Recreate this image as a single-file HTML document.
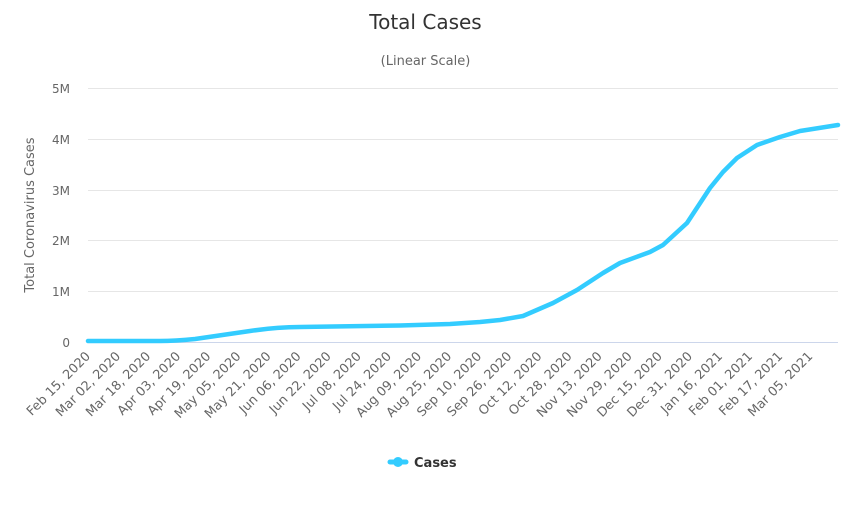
<!DOCTYPE html>
<html><head><meta charset="utf-8"><style>
body{margin:0;background:#fff;}
svg text{font-family:"DejaVu Sans","Liberation Sans",sans-serif;}
</style></head><body>
<svg width="851" height="500" xmlns="http://www.w3.org/2000/svg">
<rect width="851" height="500" fill="#fff"/>
<text x="425.5" y="29" text-anchor="middle" font-size="20" fill="#333">Total Cases</text>
<text x="425.5" y="65" text-anchor="middle" font-size="13" fill="#666">(Linear Scale)</text>
<g stroke="#e6e6e6" stroke-width="1">
<line x1="88" y1="88.5" x2="838" y2="88.5"/>
<line x1="88" y1="139.5" x2="838" y2="139.5"/>
<line x1="88" y1="190.5" x2="838" y2="190.5"/>
<line x1="88" y1="240.5" x2="838" y2="240.5"/>
<line x1="88" y1="291.5" x2="838" y2="291.5"/>
</g>
<line x1="88" y1="342.5" x2="838" y2="342.5" stroke="#ccd6eb" stroke-width="1"/>
<g font-size="12" fill="#666" text-anchor="end">
<text x="70" y="93">5M</text>
<text x="70" y="144">4M</text>
<text x="70" y="195">3M</text>
<text x="70" y="245">2M</text>
<text x="70" y="296">1M</text>
<text x="70" y="347">0</text>
</g>
<text transform="translate(34,215) rotate(-90)" text-anchor="middle" font-size="13" fill="#666">Total Coronavirus Cases</text>
<path d="M88,341 L160,341 C175,341 185,340 195,339 L250,331 C270,328 285,327 300,327 L400,325.5 L450,324 L480,322 L500,320 L523,316 L553,303 L577,290 L603,273 L620,263 L650,252 L663,245 L687,223 L710,188 L723,172 L737,158 L757,145 L780,137 L800,131 L838,125" fill="none" stroke="#33ccff" stroke-width="4.5" stroke-linejoin="round" stroke-linecap="round"/>
<g font-size="12.8" fill="#666" text-anchor="end">
<text transform="translate(91,357) rotate(-45)">Feb 15, 2020</text>
<text transform="translate(121.1,357) rotate(-45)">Mar 02, 2020</text>
<text transform="translate(151.2,357) rotate(-45)">Mar 18, 2020</text>
<text transform="translate(181.3,357) rotate(-45)">Apr 03, 2020</text>
<text transform="translate(211.4,357) rotate(-45)">Apr 19, 2020</text>
<text transform="translate(241.5,357) rotate(-45)">May 05, 2020</text>
<text transform="translate(271.6,357) rotate(-45)">May 21, 2020</text>
<text transform="translate(301.7,357) rotate(-45)">Jun 06, 2020</text>
<text transform="translate(331.8,357) rotate(-45)">Jun 22, 2020</text>
<text transform="translate(361.9,357) rotate(-45)">Jul 08, 2020</text>
<text transform="translate(392,357) rotate(-45)">Jul 24, 2020</text>
<text transform="translate(422.1,357) rotate(-45)">Aug 09, 2020</text>
<text transform="translate(452.2,357) rotate(-45)">Aug 25, 2020</text>
<text transform="translate(482.3,357) rotate(-45)">Sep 10, 2020</text>
<text transform="translate(512.4,357) rotate(-45)">Sep 26, 2020</text>
<text transform="translate(542.5,357) rotate(-45)">Oct 12, 2020</text>
<text transform="translate(572.6,357) rotate(-45)">Oct 28, 2020</text>
<text transform="translate(602.7,357) rotate(-45)">Nov 13, 2020</text>
<text transform="translate(632.8,357) rotate(-45)">Nov 29, 2020</text>
<text transform="translate(662.9,357) rotate(-45)">Dec 15, 2020</text>
<text transform="translate(693,357) rotate(-45)">Dec 31, 2020</text>
<text transform="translate(723.1,357) rotate(-45)">Jan 16, 2021</text>
<text transform="translate(753.2,357) rotate(-45)">Feb 01, 2021</text>
<text transform="translate(783.3,357) rotate(-45)">Feb 17, 2021</text>
<text transform="translate(813.4,357) rotate(-45)">Mar 05, 2021</text>
</g>
<line x1="390" y1="462" x2="406" y2="462" stroke="#33ccff" stroke-width="5" stroke-linecap="round"/>
<circle cx="398" cy="462" r="5" fill="#33ccff"/>
<text x="414" y="467" font-size="13" font-weight="bold" fill="#333">Cases</text>
</svg>
</body></html>
